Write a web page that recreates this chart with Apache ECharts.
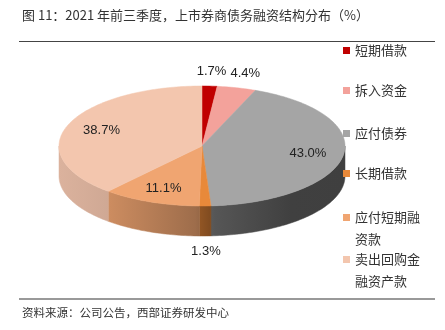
<!DOCTYPE html>
<html><head><meta charset="utf-8">
<script src="https://cdn.jsdelivr.net/npm/echarts@6/dist/echarts.min.js"></script>
<style>html,body{margin:0;padding:0;background:#fff}#c{width:445px;height:330px}</style>
</head><body><div id="c"></div>
<script>
// ---- data ----
const categories = ['短期借款','拆入资金','应付债券','长期借款','应付短期融资款','卖出回购金融资产款'];
const values = [1.7, 4.4, 43.0, 1.3, 11.1, 38.7];
const legendLines = [['短期借款'],['拆入资金'],['应付债券'],['长期借款'],['应付短期融','资款'],['卖出回购金','融资产款']];
const titleText = '图 11：2021 年前三季度，上市券商债务融资结构分布（%）';
const sourceText = '资料来源：公司公告，西部证券研发中心';

// ---- styles / layout ----
const colors = ['#C00000','#F3A29B','#A5A5A5','#E8893A','#F0A571','#F3C6AE'];
const CX = 202, CY = 146, RX = 143, RY = 60, DEPTH = 30;
const legendTops = [44, 84, 127, 167, 189, 231];
const shadeStops = [[0,0.9],[0.178,0.85],[0.476,0.66],[0.545,0.52],[0.81,0.39],[1,0.38]];

const total = values.reduce((a,b)=>a+b,0);
function hexRgb(h){return [parseInt(h.slice(1,3),16),parseInt(h.slice(3,5),16),parseInt(h.slice(5,7),16)];}
function shade(h,f){const c=hexRgb(h).map(v=>Math.round(v*f));return 'rgb('+c.join(',')+')';}
function pt(a,dy){return [CX+RX*Math.sin(a), CY-RY*Math.cos(a)+(dy||0)];}
function arc(a0,a1,dy){const n=Math.max(2,Math.ceil((a1-a0)/0.02));const out=[];for(let k=0;k<=n;k++){out.push(pt(a0+(a1-a0)*k/n,dy));}return out;}

function makeRender(i){
  return function(params, api){
    const v = api.value(0);
    let start = 0; for(let k=0;k<i;k++) start += values[k];
    const a0 = start/total*2*Math.PI, a1 = (start+v)/total*2*Math.PI;
    const children = [];
    const b0 = Math.max(a0, Math.PI/2), b1 = Math.min(a1, 3*Math.PI/2);
    if (b1 > b0){
      const pts = arc(b0,b1,0).concat(arc(b0,b1,DEPTH).reverse());
      const grad = new echarts.graphic.LinearGradient(CX-RX,0,CX+RX,0,
        shadeStops.map(s=>({offset:s[0], color:shade(colors[i], s[1])})), true);
      children.push({type:'polygon', shape:{points:pts}, style:{fill:grad, stroke:grad, lineWidth:0.5}});
    }
    const top = [[CX,CY]].concat(arc(a0,a1,0));
    children.push({type:'polygon', shape:{points:top}, style:{fill:colors[i], stroke:colors[i], lineWidth:0.5}});
    const mid = (a0+a1)/2;
    const inside = v > 5;
    const f = inside ? 0.75 : 1.25;
    let lx = CX + RX*f*Math.sin(mid), ly = CY - RY*f*Math.cos(mid);
    if (!inside && Math.cos(mid) < 0) ly += DEPTH;
    children.push({type:'text', style:{x:lx, y:ly, text:v.toFixed(1)+'%', fill:'#222',
      font:'13px "Liberation Sans", Arial, sans-serif', align:'center', verticalAlign:'middle'}, z2:10});
    return {type:'group', children};
  };
}

const chart = echarts.init(document.getElementById('c'), null, {renderer:'canvas'});
chart.setOption({
  animation:false,
  backgroundColor:'#fff',
  legend: categories.map((c,i)=>({
    data:[c], orient:'vertical', left:343, top:legendTops[i], padding:0, icon:'rect',
    itemWidth:7, itemHeight:7, selectedMode:false,
    formatter: ()=>{
      const ls = legendLines[i].map(l=>'{a|'+l+'}');
      if (ls.length>1) ls.unshift('{a| }');
      return ls.join('\n');
    },
    textStyle:{fontSize:13, color:'#333', fontFamily:'"Noto Sans CJK SC", sans-serif',
      rich:{a:{fontSize:13, color:'#333', fontFamily:'"Noto Sans CJK SC", sans-serif',
        lineHeight: legendLines[i].length>1 ? 22 : 20}}}
  })),
  series: categories.map((c,i)=>({
    type:'custom', name:c, coordinateSystem:'none', data:[[values[i]]],
    itemStyle:{color:colors[i]}, renderItem: makeRender(i), silent:true
  })),
  graphic:[
    {type:'text', style:{x:22, y:15, text:titleText, fill:'#333', font:'13px "Noto Sans CJK SC", sans-serif', verticalAlign:'middle'}},
    {type:'line', shape:{x1:19,y1:41.5,x2:435,y2:41.5}, style:{stroke:'#444', lineWidth:1}},
    {type:'line', shape:{x1:19,y1:299,x2:435,y2:299}, style:{stroke:'#999', lineWidth:2}},
    {type:'text', style:{x:22, y:313, text:sourceText, fill:'#333', font:'11.5px "Noto Sans CJK SC", sans-serif', verticalAlign:'middle'}}
  ]
});
</script></body></html>
